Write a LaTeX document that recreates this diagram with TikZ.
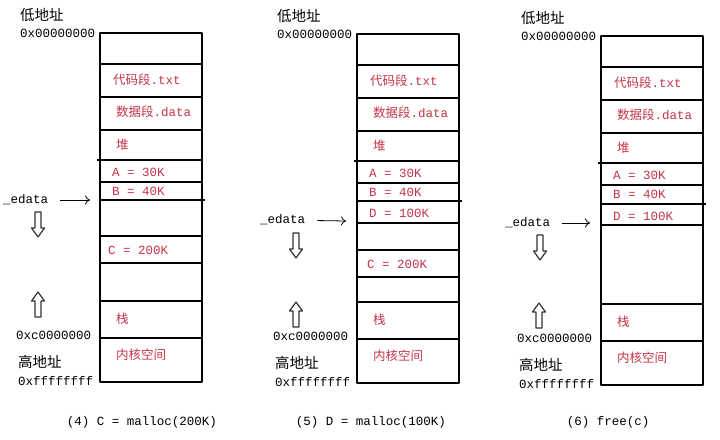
\documentclass[tikz,border=0pt]{standalone}
\usepackage{fontspec}
\setmainfont{Liberation Mono}
\newfontfamily\cjk{Noto Sans CJK SC}
\usetikzlibrary{arrows.meta}

\definecolor{segred}{RGB}{196,52,72}

\tikzset{
    cell/.style={line width=2.4pt, line cap=rect},
    addr/.style={anchor=west, inner sep=0pt, font=\fontsize{12.5}{14}\selectfont},
    hanzi/.style={anchor=west, inner sep=0pt, font=\cjk\fontsize{14.5}{16}\selectfont},
    seg/.style={anchor=west, inner sep=0pt, text=segred, font=\fontsize{12.5}{14}\selectfont},
    caption/.style={inner sep=0pt, font=\fontsize{12.5}{14}\selectfont},
    ptr/.style={-{To[length=5pt,width=9pt]}, line width=0.8pt},
    hollow/.style={line width=1.2pt, draw=black!80},
    heapdown/.pic={\draw[hollow] (-3,0) -- (-3,16) -- (-6.5,16) -- (0,25) -- (6.5,16) -- (3,16) -- (3,0) -- cycle;},
    stackup/.pic={\draw[hollow] (-3,25) -- (-3,9) -- (-6.5,9) -- (0,0) -- (6.5,9) -- (3,9) -- (3,25) -- cycle;},
}

\begin{document}
\begin{tikzpicture}[x=1pt, y=-1pt, line join=round]
    \useasboundingbox (0,0) rectangle (720,439);

    % the parts every panel has
    \foreach \p/\dx/\dy in {a/0/0, b/257/1, c/501/3}{
        \begin{scope}[shift={(\dx,\dy)}, name prefix=\p-]
            \draw[cell] (100,33) rectangle (202,382);
            \foreach \y in {64,97,130,182,301,338}
                \draw[cell] (100,\y) -- (202,\y);
            \draw[cell] (98,160) -- (202,160);

            \node[hanzi] (low) at (20,15) {低地址};
            \node[addr] (zero) at (20,33) {0x00000000};
            \node[addr] (kern) at (16,335) {0xc0000000};
            \node[hanzi] (high) at (18,362) {高地址};
            \node[addr] (top) at (18,381) {0xffffffff};

            \node[seg] (code) at (113,80) {{\cjk 代码段}.txt};
            \node[seg] (data) at (116,112) {{\cjk 数据段}.data};
            \node[seg] (heap) at (116,145) {\cjk 堆};
            \node[seg] (blka) at (112,172) {A = 30K};
            \node[seg] (blkb) at (112,191) {B = 40K};
            \node[seg] (stack) at (116,319) {\cjk 栈};
            \node[seg] (kspace) at (116,355) {\cjk 内核空间};
        \end{scope}
    }

    % (4) C = malloc(200K)
    \begin{scope}[name prefix=a-]
        \draw[cell] (100,200) -- (204,200);
        \draw[cell] (100,236) -- (202,236);
        \draw[cell] (100,263) -- (202,263);
        \node[seg] (blkc) at (108,250) {C = 200K};

        \node[addr] (edata) at (3,200) {\_edata};
        \coordinate (brk) at (90,200);
        \draw[ptr, shorten <=12pt] (edata) -- (brk);
        \pic at (38,212) {heapdown};
        \pic at (38,292) {stackup};
        \node[caption] (cap) at (142,422) {(4) C = malloc(200K)};
    \end{scope}

    % (5) D = malloc(100K)
    \begin{scope}[shift={(257,1)}, name prefix=b-]
        \draw[cell] (100,200) -- (204,200);
        \foreach \y in {222,249,276}
            \draw[cell] (100,\y) -- (202,\y);
        \node[seg] (blkd) at (112,212) {D = 100K};
        \node[seg] (blkc) at (110,263) {C = 200K};

        \node[addr] (edata) at (3,219) {\_edata};
        \coordinate (brk) at (89,220);
        \draw[ptr, shorten <=12pt] (edata) -- (brk);
        \pic at (39,232) {heapdown};
        \pic at (39,301) {stackup};
        \node[caption] (cap) at (114,421) {(5) D = malloc(100K)};
    \end{scope}

    % (6) free(c)
    \begin{scope}[shift={(501,3)}, name prefix=c-]
        \draw[cell] (100,201) -- (204,201);
        \draw[cell] (100,222) -- (202,222);
        \node[seg] (blkd) at (112,213) {D = 100K};

        \node[addr] (edata) at (4,220) {\_edata};
        \coordinate (brk) at (89,220);
        \draw[ptr, shorten <=12pt] (edata) -- (brk);
        \pic at (39,232) {heapdown};
        \pic at (38,300) {stackup};
        \node[caption] (cap) at (107,419) {(6) free(c)};
    \end{scope}
\end{tikzpicture}
\end{document}
